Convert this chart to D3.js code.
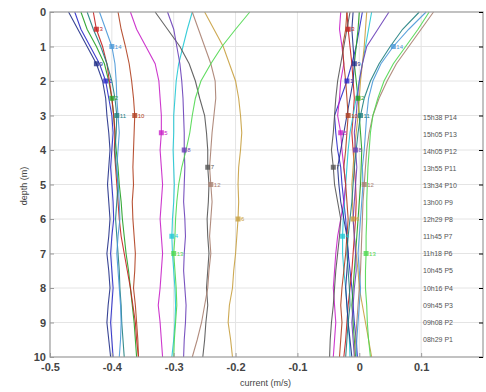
<!DOCTYPE html>
<html>
<head>
<meta charset="utf-8">
<script src="https://cdn.jsdelivr.net/npm/d3@7"></script>
<style>
  body { margin: 0; background: #fff; }
  svg { display: block; font-family: "Liberation Sans", Arial, sans-serif; }
</style>
</head>
<body>
<svg id="chart" width="486" height="392"></svg>
<script>
// depth levels (m)
const depths = [0, 0.5, 1, 1.5, 2, 2.5, 3, 3.5, 4, 4.5, 5, 5.5, 6, 6.5, 7, 7.5, 8, 8.5, 9, 9.5, 10];

const profiles = ['P1', 'P2', 'P3', 'P4', 'P5', 'P6', 'P7', 'P8', 'P9', 'P10', 'P11', 'P12', 'P13', 'P14'];
const times = ['08h29', '09h08', '09h45', '10h16', '10h45', '11h18', '11h45', '12h29', '13h00', '13h34', '13h55', '14h05', '15h05', '15h38'];
const colors = ['#2a2ac8', '#22a022', '#c42020', '#22c8d4', '#c822c8', '#c8a040', '#555555',
                '#6a40b8', '#223088', '#b04020', '#208080', '#a88070', '#50d850', '#4a98d8'];
const markerDepth = [2.0, 2.5, 0.5, 6.5, 3.5, 6.0, 4.5, 4.0, 1.5, 3.0, 3.0, 5.0, 7.0, 1.0];

// first component (left group)
const uCurrent = [
  [-0.46, -0.45, -0.435, -0.42, -0.41, -0.405, -0.40, -0.398, -0.40, -0.402, -0.40, -0.398, -0.397, -0.40, -0.402, -0.40, -0.398, -0.40, -0.402, -0.40, -0.398],
  [-0.45, -0.44, -0.425, -0.412, -0.405, -0.40, -0.397, -0.395, -0.393, -0.39, -0.388, -0.385, -0.383, -0.38, -0.377, -0.373, -0.37, -0.367, -0.364, -0.362, -0.36],
  [-0.43, -0.425, -0.415, -0.408, -0.404, -0.40, -0.397, -0.395, -0.396, -0.394, -0.392, -0.39, -0.388, -0.385, -0.38, -0.375, -0.37, -0.366, -0.362, -0.36, -0.357],
  [-0.27, -0.278, -0.285, -0.292, -0.296, -0.298, -0.30, -0.30, -0.301, -0.30, -0.299, -0.30, -0.302, -0.303, -0.302, -0.30, -0.298, -0.297, -0.298, -0.30, -0.303],
  [-0.37, -0.36, -0.345, -0.33, -0.324, -0.322, -0.32, -0.32, -0.322, -0.32, -0.318, -0.32, -0.322, -0.32, -0.318, -0.32, -0.322, -0.325, -0.322, -0.32, -0.318],
  [-0.25, -0.235, -0.22, -0.21, -0.20, -0.195, -0.192, -0.19, -0.192, -0.195, -0.196, -0.195, -0.196, -0.198, -0.20, -0.203, -0.205, -0.21, -0.212, -0.208, -0.205],
  [-0.33, -0.31, -0.29, -0.275, -0.265, -0.258, -0.25, -0.247, -0.245, -0.245, -0.243, -0.244, -0.246, -0.245, -0.243, -0.245, -0.247, -0.245, -0.248, -0.25, -0.253],
  [-0.31, -0.30, -0.295, -0.29, -0.287, -0.285, -0.284, -0.283, -0.283, -0.282, -0.283, -0.284, -0.282, -0.281, -0.283, -0.284, -0.282, -0.28, -0.281, -0.283, -0.284],
  [-0.47, -0.455, -0.44, -0.425, -0.415, -0.41, -0.408, -0.405, -0.403, -0.405, -0.407, -0.405, -0.403, -0.405, -0.408, -0.405, -0.403, -0.406, -0.408, -0.405, -0.402],
  [-0.39, -0.385, -0.378, -0.372, -0.368, -0.365, -0.363, -0.364, -0.365, -0.366, -0.365, -0.367, -0.366, -0.364, -0.362, -0.363, -0.365, -0.362, -0.36, -0.358, -0.357],
  [-0.44, -0.43, -0.418, -0.408, -0.40, -0.395, -0.392, -0.393, -0.395, -0.393, -0.39, -0.392, -0.394, -0.392, -0.39, -0.388, -0.387, -0.385, -0.384, -0.382, -0.38],
  [-0.27, -0.26, -0.25, -0.24, -0.233, -0.232, -0.235, -0.238, -0.24, -0.242, -0.24, -0.238, -0.24, -0.242, -0.24, -0.243, -0.245, -0.25, -0.255, -0.262, -0.27],
  [-0.177, -0.20, -0.222, -0.24, -0.256, -0.265, -0.27, -0.274, -0.28, -0.287, -0.292, -0.295, -0.297, -0.298, -0.30, -0.298, -0.296, -0.295, -0.297, -0.299, -0.30],
  [-0.42, -0.41, -0.40, -0.395, -0.393, -0.392, -0.39, -0.388, -0.39, -0.392, -0.39, -0.388, -0.387, -0.39, -0.392, -0.39, -0.388, -0.386, -0.385, -0.386, -0.388]
];

// second component (right group, near zero)
const vCurrent = [
  [0.005, 0.0, -0.005, -0.012, -0.02, -0.03, -0.04, -0.038, -0.035, -0.03, -0.028, -0.025, -0.022, -0.02, -0.018, -0.015, -0.012, -0.01, -0.008, -0.005, -0.003],
  [0.0, -0.002, -0.005, -0.008, -0.005, -0.002, 0.0, 0.002, 0.004, 0.003, 0.002, 0.0, -0.002, -0.004, -0.006, -0.008, -0.01, -0.012, -0.01, -0.008, -0.006],
  [-0.02, -0.018, -0.015, -0.012, -0.01, -0.008, -0.01, -0.012, -0.01, -0.008, -0.006, -0.005, -0.006, -0.008, -0.01, -0.012, -0.015, -0.018, -0.02, -0.022, -0.025],
  [0.02, 0.015, 0.01, 0.005, 0.0, -0.005, -0.01, -0.015, -0.018, -0.02, -0.022, -0.024, -0.026, -0.027, -0.027, -0.025, -0.022, -0.02, -0.018, -0.016, -0.015],
  [-0.03, -0.032, -0.028, -0.025, -0.03, -0.032, -0.035, -0.03, -0.028, -0.025, -0.022, -0.025, -0.03, -0.035, -0.038, -0.04, -0.042, -0.04, -0.038, -0.04, -0.042],
  [0.012, 0.01, 0.008, 0.005, 0.002, 0.0, -0.002, -0.005, -0.008, -0.01, -0.012, -0.011, -0.01, -0.008, -0.005, -0.002, 0.0, 0.005, 0.01, 0.015, 0.02],
  [-0.015, -0.02, -0.025, -0.03, -0.035, -0.038, -0.04, -0.042, -0.045, -0.042, -0.04, -0.035, -0.03, -0.032, -0.035, -0.038, -0.04, -0.042, -0.045, -0.047, -0.048],
  [0.048, 0.03, 0.012, 0.005, 0.0, -0.003, -0.005, -0.008, -0.006, -0.004, -0.006, -0.008, -0.01, -0.008, -0.006, -0.005, -0.008, -0.01, -0.012, -0.01, -0.008],
  [-0.01, -0.012, -0.01, -0.008, -0.01, -0.015, -0.02, -0.025, -0.03, -0.035, -0.033, -0.03, -0.025, -0.02, -0.018, -0.02, -0.022, -0.02, -0.018, -0.015, -0.012],
  [-0.02, -0.022, -0.027, -0.025, -0.022, -0.02, -0.018, -0.02, -0.022, -0.025, -0.022, -0.02, -0.018, -0.02, -0.022, -0.025, -0.028, -0.03, -0.028, -0.03, -0.032],
  [0.097, 0.07, 0.05, 0.032, 0.018, 0.008, 0.002, -0.002, -0.005, -0.008, -0.01, -0.012, -0.015, -0.018, -0.02, -0.018, -0.016, -0.015, -0.018, -0.02, -0.022],
  [0.12, 0.10, 0.08, 0.06, 0.045, 0.032, 0.022, 0.016, 0.012, 0.01, 0.008, 0.006, 0.005, 0.004, 0.003, 0.002, 0.0, -0.002, -0.004, -0.006, -0.008],
  [0.113, 0.095, 0.075, 0.055, 0.04, 0.03, 0.022, 0.018, 0.016, 0.014, 0.013, 0.012, 0.012, 0.011, 0.011, 0.01, 0.01, 0.012, 0.013, 0.015, 0.018],
  [0.108, 0.08, 0.055, 0.035, 0.022, 0.015, 0.012, 0.01, 0.008, 0.005, 0.006, 0.004, 0.002, 0.0, -0.002, 0.0, 0.002, 0.0, -0.002, -0.004, -0.005]
];

const xTicks = [-0.5, -0.4, -0.3, -0.2, -0.1, 0, 0.1];
const yTicks = [0, 1, 2, 3, 4, 5, 6, 7, 8, 9, 10];

const margin = { top: 12, right: 3, bottom: 35, left: 50 };
const width = 486 - margin.left - margin.right;
const height = 392 - margin.top - margin.bottom;

const svg = d3.select('#chart');
const g = svg.append('g').attr('transform', 'translate(' + margin.left + ',' + margin.top + ')');

const x = d3.scaleLinear().domain([-0.5, 0.2]).range([0, width]);
const y = d3.scaleLinear().domain([0, 10]).range([0, height]);

// grid
g.append('g').selectAll('line.gx').data(xTicks.slice(1)).enter().append('line')
  .attr('x1', d => x(d)).attr('x2', d => x(d)).attr('y1', 0).attr('y2', height)
  .attr('stroke', '#e4e4e4').attr('stroke-width', 1);
g.append('g').selectAll('line.gy').data(yTicks.slice(1, -1)).enter().append('line')
  .attr('x1', 0).attr('x2', width).attr('y1', d => y(d)).attr('y2', d => y(d))
  .attr('stroke', '#e4e4e4').attr('stroke-width', 1);

// profiles
const line = d3.line().x(d => x(d[0])).y(d => y(d[1])).curve(d3.curveLinear);
const series = [];
profiles.forEach((p, i) => {
  series.push({ i: i, vals: uCurrent[i] });
  series.push({ i: i, vals: vCurrent[i] });
});

g.append('g').selectAll('path').data(series).enter().append('path')
  .attr('d', s => line(s.vals.map((v, k) => [v, depths[k]])))
  .attr('fill', 'none')
  .attr('stroke', s => colors[s.i])
  .attr('stroke-width', 1.1)
  .attr('opacity', 0.9);

// markers with profile number
const marks = g.append('g').selectAll('g').data(series).enter().append('g')
  .attr('transform', s => {
    const k = depths.indexOf(markerDepth[s.i]);
    return 'translate(' + x(s.vals[k]) + ',' + y(depths[k]) + ')';
  });
marks.append('rect')
  .attr('x', -2.5).attr('y', -2.5).attr('width', 5).attr('height', 5)
  .attr('fill', s => colors[s.i]).attr('opacity', 0.8);
marks.append('text')
  .attr('x', 3).attr('y', 2)
  .attr('font-size', 6)
  .attr('fill', s => colors[s.i])
  .text(s => s.i + 1);

// axes box
g.append('rect').attr('width', width).attr('height', height)
  .attr('fill', 'none').attr('stroke', '#999').attr('stroke-width', 1.2);

const xAxis = g.append('g').attr('transform', 'translate(0,' + height + ')')
  .call(d3.axisBottom(x).tickValues(xTicks).tickSize(-4).tickPadding(6).tickFormat(d => d === 0 ? '0' : String(d)));
const yAxis = g.append('g')
  .call(d3.axisLeft(y).tickValues(yTicks).tickSize(-4).tickPadding(4).tickFormat(d3.format('d')));
g.append('g').attr('transform', 'translate(' + width + ',0)')
  .call(d3.axisRight(y).tickValues(yTicks).tickSize(-4).tickFormat(''));

[xAxis, yAxis].forEach(a => {
  a.select('.domain').remove();
  a.selectAll('.tick line').attr('stroke', '#999');
  a.selectAll('.tick text').attr('fill', '#444').attr('font-size', 11).attr('font-weight', 'bold');
});
svg.selectAll('.domain').remove();

// axis labels
svg.append('text')
  .attr('x', margin.left + x(-0.1) - 32).attr('y', 386)
  .attr('text-anchor', 'middle').attr('font-size', 9).attr('fill', '#444')
  .text('current  (m/s)');
svg.append('text')
  .attr('transform', 'translate(27,186) rotate(-90)')
  .attr('text-anchor', 'middle').attr('font-size', 9).attr('fill', '#444')
  .text('depth (m)');

// legend (text only)
const legend = svg.append('g').attr('transform', 'translate(423,117)');
const order = d3.range(profiles.length).reverse();
legend.selectAll('text').data(order).enter().append('text')
  .attr('x', 0).attr('y', (d, j) => j * 17.1 + 2.5)
  .attr('font-size', 7).attr('fill', '#555')
  .text(d => times[d] + ' ' + profiles[d]);
</script>
</body>
</html>
